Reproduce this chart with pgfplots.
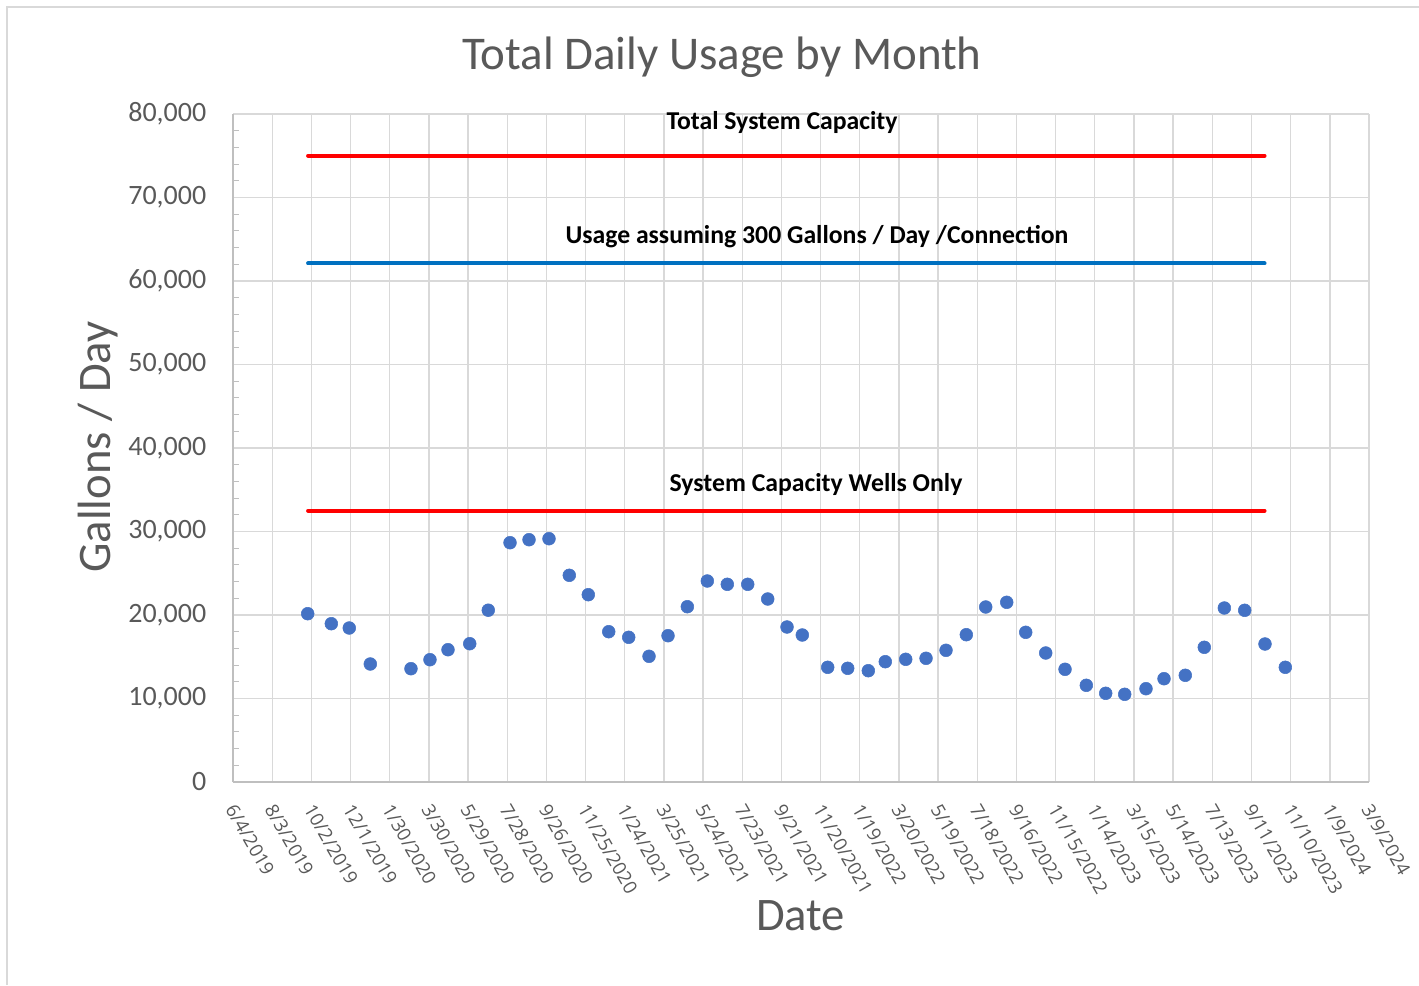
\documentclass[border=0pt]{standalone}
\usepackage{fontspec}
\setmainfont{Carlito}
\newfontfamily\osans{Open Sans}
\usepackage{pgfplots}
\pgfplotsset{compat=1.18}
\definecolor{txt}{HTML}{595959}
\definecolor{framegray}{HTML}{D9D9D9}
\definecolor{gridgray}{HTML}{D9D9D9}
\definecolor{axisgray}{HTML}{BFBFBF}
\definecolor{dotblue}{HTML}{4472C4}
\definecolor{lineblue}{HTML}{0070C0}
\definecolor{linered}{HTML}{FF0000}
\pgfplotstableread{
day usage
114.4 20156
150.6 18958
178.1 18443
210.3 14132
272.6 13569
301.7 14647
329.3 15844
362.6 16563
391.0 20575
424.3 28659
453.4 29018
484.0 29138
515.1 24754
544.2 22431
575.5 18000
606.1 17329
637.2 15054
666.3 17521
695.9 20994
726.5 24072
757.1 23677
788.4 23677
819.0 21916
848.6 18563
872.0 17605
910.9 13737
941.5 13617
973.1 13329
999.1 14407
1030.4 14695
1061.5 14814
1092.1 15772
1123.2 17641
1152.9 20958
1185.1 21521
1214.2 17928
1244.8 15449
1274.4 13497
1307.0 11581
1336.7 10623
1365.8 10503
1398.4 11174
1426.0 12371
1458.6 12778
1487.7 16132
1518.4 20838
1549.6 20563
1580.7 16527
1611.8 13737
}\usagedata
\begin{document}
\begin{tikzpicture}
\path[use as bounding box] (0pt,0pt) rectangle (1064.25pt,738.75pt);
\draw[draw=framegray, line width=1.2pt] (5.25pt,0pt) -- (5.25pt,733.5pt) -- (1064.25pt,733.5pt);
\node[anchor=base, inner sep=0, text=txt, font=\fontsize{35.2}{37}\selectfont] at (541.4pt,686.6pt) {Total Daily Usage by Month};
\node[anchor=base, inner sep=0, text=txt, rotate=90, font=\fontsize{35}{37}\selectfont] at (82.5pt,403.5pt) {Gallons / Day};
\node[anchor=base, inner sep=0, text=txt, font=\fontsize{35}{37}\selectfont] at (600.5pt,41.25pt) {Date};
\begin{axis}[
  at={(174.75pt,152.25pt)}, anchor=south west, scale only axis,
  width=852pt, height=501pt,
  xmin=0, xmax=1740, ymin=0, ymax=80000,
  axis lines=left,
  axis line style={-, draw=axisgray, line width=1pt},
  grid=major,
  major grid style={draw=gridgray, line width=1pt},
  xtick={0,60,...,1740},
  xticklabels={6/4/2019,8/3/2019,10/2/2019,12/1/2019,1/30/2020,3/30/2020,5/29/2020,7/28/2020,9/26/2020,11/25/2020,1/24/2021,3/25/2021,5/24/2021,7/23/2021,9/21/2021,11/20/2021,1/19/2022,3/20/2022,5/19/2022,7/18/2022,9/16/2022,11/15/2022,1/14/2023,3/15/2023,5/14/2023,7/13/2023,9/11/2023,11/10/2023,1/9/2024,3/9/2024},
  ytick={0,10000,...,80000},
  yticklabels={0,{10,000},{20,000},{30,000},{40,000},{50,000},{60,000},{70,000},{80,000}},
  scaled y ticks=false,
  minor y tick num=4,
  major tick length=0pt,
  minor tick length=4.5pt,
  tick align=inside,
  minor tick style={draw=axisgray, line width=0.8pt},
  x tick label style={font=\osans\fontsize{14}{14}\selectfont, text=txt, xshift=-3.5pt, yshift=-15pt, rotate=-60, anchor=west},
  y tick label style={font=\fontsize{21}{21}\selectfont, text=txt, xshift=-16.5pt},
  clip=false,
]
\addplot[draw=linered, line width=3pt, line cap=round] coordinates {(115,75000) (1580,75000)};
\addplot[draw=lineblue, line width=3pt, line cap=round] coordinates {(115,62100) (1580,62100)};
\addplot[draw=linered, line width=3pt, line cap=round] coordinates {(115,32500) (1580,32500)};
\addplot[only marks, mark=*, mark size=4.8pt, color=dotblue] table[x=day, y=usage] {\usagedata};
\node[anchor=base, inner sep=0, font=\bfseries\fontsize{19.3}{20}\selectfont] at (axis cs:840.9,78204) {Total System Capacity};
\node[anchor=base, inner sep=0, font=\bfseries\fontsize{19.3}{20}\selectfont] at (axis cs:894.5,64551) {Usage assuming 300 Gallons / Day /Connection};
\node[anchor=base, inner sep=0, font=\bfseries\fontsize{19.3}{20}\selectfont] at (axis cs:893,34850) {System Capacity Wells Only};
\end{axis}
\end{tikzpicture}
\end{document}
